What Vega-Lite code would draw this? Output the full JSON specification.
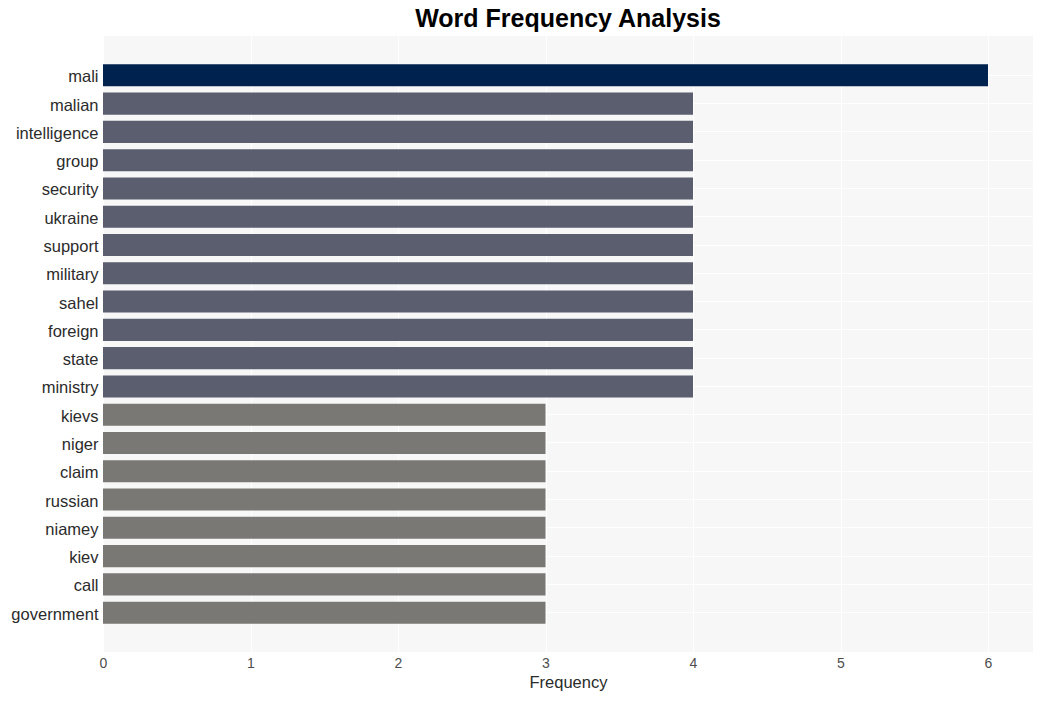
{
  "$schema": "https://vega.github.io/schema/vega-lite/v6.json",
  "width": 930,
  "height": 616,
  "autosize": {"type": "none"},
  "padding": {"left": 103, "top": 36, "right": 9, "bottom": 49},
  "background": "white",
  "title": {
    "text": "Word Frequency Analysis",
    "font": "Liberation Sans",
    "fontSize": 25,
    "fontWeight": "bold",
    "color": "#000000",
    "anchor": "middle",
    "offset": 4
  },
  "config": {
    "view": {"fill": "#f7f7f7", "stroke": null},
    "axis": {"labelFont": "Liberation Sans", "titleFont": "Liberation Sans"}
  },
  "data": {
    "values": [
      {"word": "mali", "count": 6},
      {"word": "malian", "count": 4},
      {"word": "intelligence", "count": 4},
      {"word": "group", "count": 4},
      {"word": "security", "count": 4},
      {"word": "ukraine", "count": 4},
      {"word": "support", "count": 4},
      {"word": "military", "count": 4},
      {"word": "sahel", "count": 4},
      {"word": "foreign", "count": 4},
      {"word": "state", "count": 4},
      {"word": "ministry", "count": 4},
      {"word": "kievs", "count": 3},
      {"word": "niger", "count": 3},
      {"word": "claim", "count": 3},
      {"word": "russian", "count": 3},
      {"word": "niamey", "count": 3},
      {"word": "kiev", "count": 3},
      {"word": "call", "count": 3},
      {"word": "government", "count": 3}
    ]
  },
  "mark": {"type": "bar"},
  "encoding": {
    "y": {
      "field": "word",
      "type": "nominal",
      "sort": null,
      "scale": {"paddingInner": 0.22, "paddingOuter": 1.0},
      "axis": {
        "title": null,
        "domain": false,
        "ticks": false,
        "labelPadding": 5,
        "labelOffset": 2,
        "labelFontSize": 16.5,
        "labelColor": "#2b2b2b",
        "grid": true,
        "gridColor": "#ffffff",
        "gridWidth": 1,
        "bandPosition": 0.5
      }
    },
    "x": {
      "field": "count",
      "type": "quantitative",
      "scale": {"domain": [0, 6.305], "nice": false},
      "axis": {
        "title": "Frequency",
        "titleFontSize": 16.5,
        "titleFontWeight": "normal",
        "titleColor": "#2b2b2b",
        "titlePadding": 4,
        "values": [0, 1, 2, 3, 4, 5, 6],
        "format": "d",
        "domain": false,
        "ticks": false,
        "labelFlush": false,
        "labelPadding": 4,
        "labelFontSize": 14,
        "labelColor": "#4d4d4d",
        "grid": true,
        "gridColor": "#ffffff",
        "gridWidth": 1
      }
    },
    "color": {
      "field": "count",
      "type": "ordinal",
      "scale": {"domain": [6, 4, 3], "range": ["#00224f", "#5a5e6e", "#7a7874"]},
      "legend": null
    }
  }
}
